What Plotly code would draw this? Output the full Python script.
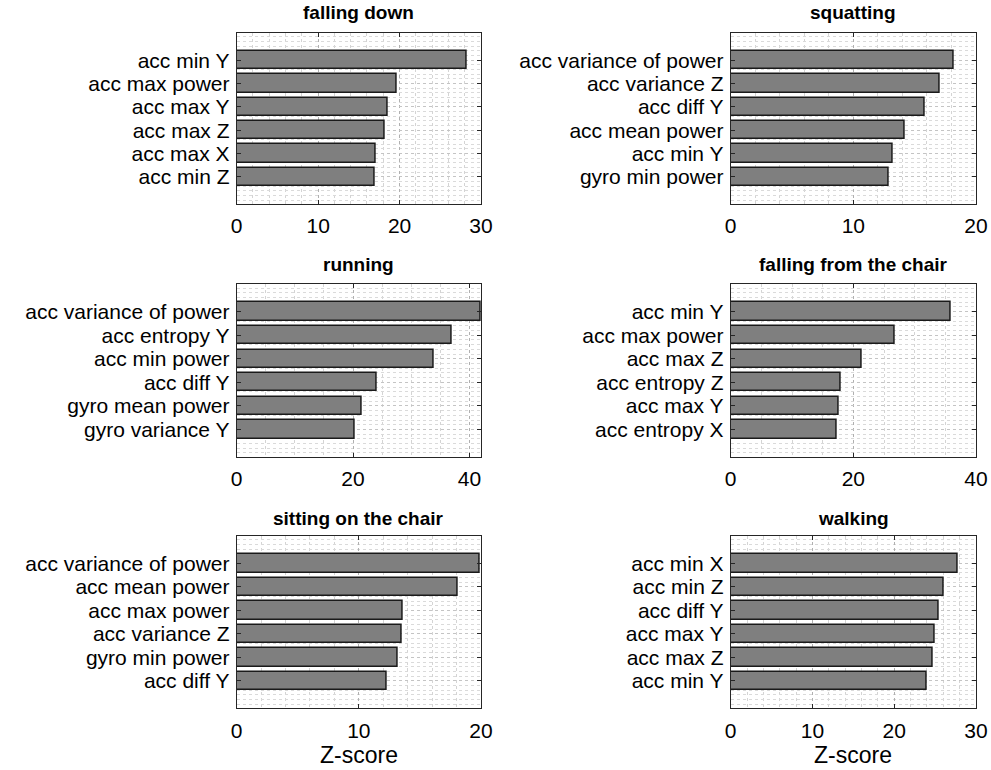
import plotly.graph_objects as go

titles = ["falling down", "squatting", "running",
          "falling from the chair", "sitting on the chair", "walking"]

labels_falling_down = ["acc min Y", "acc max power", "acc max Y", "acc max Z", "acc max X", "acc min Z"]
values_falling_down = [28.2, 19.6, 18.6, 18.2, 17.05, 17.0]

labels_squatting = ["acc variance of power", "acc variance Z", "acc diff Y", "acc mean power", "acc min Y", "gyro min power"]
values_squatting = [18.15, 17.0, 15.8, 14.15, 13.2, 12.85]

labels_running = ["acc variance of power", "acc entropy Y", "acc min power", "acc diff Y", "gyro mean power", "gyro variance Y"]
values_running = [42.0, 36.9, 33.8, 24.0, 21.5, 20.2]

labels_falling_chair = ["acc min Y", "acc max power", "acc max Z", "acc entropy Z", "acc max Y", "acc entropy X"]
values_falling_chair = [35.9, 26.8, 21.4, 18.0, 17.6, 17.3]

labels_sitting = ["acc variance of power", "acc mean power", "acc max power", "acc variance Z", "gyro min power", "acc diff Y"]
values_sitting = [19.9, 18.1, 13.6, 13.5, 13.2, 12.3]

labels_walking = ["acc min X", "acc min Z", "acc diff Y", "acc max Y", "acc max Z", "acc min Y"]
values_walking = [27.8, 26.1, 25.4, 24.9, 24.7, 24.0]

x_max = [30, 20, 42, 40, 20, 30]
x_dtick = [10, 10, 20, 20, 10, 10]
x_minor = [2, 2, 5, 5, 2, 2]

all_labels = [labels_falling_down, labels_squatting, labels_running,
              labels_falling_chair, labels_sitting, labels_walking]
all_values = [values_falling_down, values_squatting, values_running,
              values_falling_chair, values_sitting, values_walking]

W, H = 991, 770
col_px = [(236.7, 481.0), (730.7, 976.0)]
row_px = [(33.0, 204.0), (284.0, 457.0), (536.0, 708.3)]
title_px = [12, 265, 518]

fig = go.Figure()
annotations = []
FONT = "Liberation Sans, Arial, sans-serif"
AX = "#262626"

for i in range(6):
    r, c = divmod(i, 2)
    n = len(all_labels[i])
    ypos = list(range(n, 0, -1))
    xa = "x" if i == 0 else f"x{i+1}"
    ya = "y" if i == 0 else f"y{i+1}"
    fig.add_trace(go.Bar(
        x=all_values[i], y=ypos, orientation="h", width=0.78,
        marker=dict(color="#7f7f7f", line=dict(color="#1a1a1a", width=1.5)),
        xaxis=xa, yaxis=ya, showlegend=False, hoverinfo="skip"))
    x0, x1 = col_px[c]
    y0, y1 = row_px[r]
    xdom = [x0 / W, x1 / W]
    ydom = [1 - y1 / H, 1 - y0 / H]
    xkey = "xaxis" if i == 0 else f"xaxis{i+1}"
    ykey = "yaxis" if i == 0 else f"yaxis{i+1}"
    fig.layout[xkey] = dict(
        domain=xdom, anchor=ya, range=[0, x_max[i]], tick0=0, dtick=x_dtick[i],
        ticks="inside", ticklen=4, tickcolor=AX, showline=True, linecolor=AX,
        linewidth=1, mirror="ticks", showgrid=True, gridcolor="#b0b0b0",
        griddash="dot", gridwidth=1, zeroline=False,
        minor=dict(dtick=x_minor[i], tick0=0, showgrid=True, gridcolor="#d4d4d4",
                   griddash="dot", gridwidth=1, ticks=""),
        tickfont=dict(size=21, color="black", family=FONT),
        ticklabelstandoff=3, automargin=False, fixedrange=True)
    fig.layout[ykey] = dict(
        domain=ydom, anchor=xa, range=[-0.17, n + 1.17],
        tickvals=ypos, ticktext=all_labels[i],
        ticks="inside", ticklen=4, tickcolor=AX, showline=True, linecolor=AX,
        linewidth=1, mirror="ticks", showgrid=True, gridcolor="#c4c4c4",
        griddash="dot", gridwidth=1, zeroline=False,
        minor=dict(dtick=0.2, tick0=0, showgrid=True, gridcolor="#dadada",
                   griddash="dot", gridwidth=1, ticks=""),
        tickfont=dict(size=21, color="black", family=FONT),
        ticklabelstandoff=2, automargin=False, fixedrange=True)
    annotations.append(dict(
        text=f"<b>{titles[i]}</b>", x=(x0 + x1) / 2 / W, y=1 - title_px[r] / H,
        xref="paper", yref="paper", xanchor="center", yanchor="middle",
        showarrow=False, font=dict(size=19, color="black", family=FONT)))

for c in range(2):
    x0, x1 = col_px[c]
    annotations.append(dict(
        text="Z-score", x=(x0 + x1) / 2 / W, y=1 - 755 / H,
        xref="paper", yref="paper", xanchor="center", yanchor="middle",
        showarrow=False, font=dict(size=23, color="black", family=FONT)))

fig.update_layout(
    width=W, height=H, margin=dict(l=0, r=0, t=0, b=0),
    plot_bgcolor="white", paper_bgcolor="white",
    annotations=annotations, bargap=0)

fig.write_html("out.html", config={"displayModeBar": False})
